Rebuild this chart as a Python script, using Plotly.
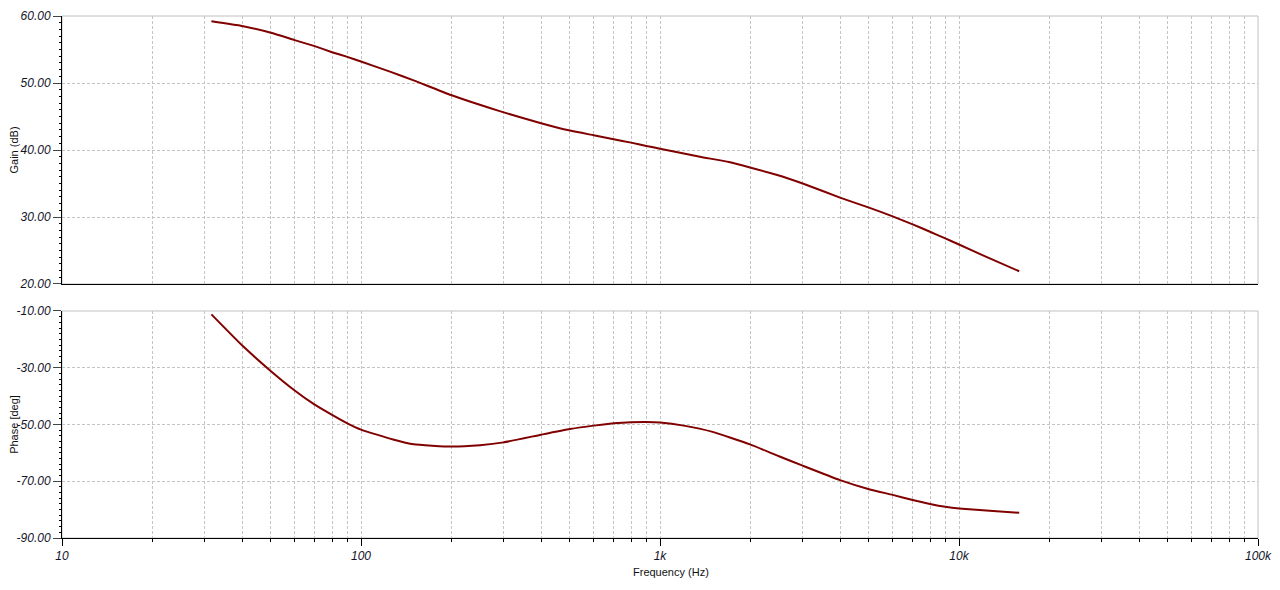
import plotly.graph_objects as go

# ─── Data ──────────────────────────────────────────────────────────────────────

gain_freq = [31.6, 40, 50, 60, 70, 80, 90, 100, 125, 150, 200, 291, 400, 500, 600,
             700, 800, 900, 1000, 1360, 1700, 2000, 2450, 3000, 4000, 5000, 6000, 7000,
             8000, 9000, 10000, 12400, 15900]
gain_db = [59.2, 58.5, 57.5, 56.4, 55.5, 54.6, 53.9, 53.2, 51.7, 50.4, 48.2, 45.8, 44.0,
           42.9, 42.2, 41.6, 41.1, 40.6, 40.2, 39.0, 38.2, 37.4, 36.3, 35.0, 32.9, 31.4,
           30.1, 28.9, 27.8, 26.8, 25.9, 24.0, 21.9]

phase_freq = [31.6, 40, 50, 60, 70, 80, 90, 100, 128, 150, 200, 250, 300, 400, 500, 600,
              700, 800, 900, 1000, 1200, 1500, 2000, 2500, 3000, 4000, 5000, 6000, 7000,
              8000, 9000, 10000, 13000, 15900]
phase_deg = [-11.2, -22.1, -31.2, -38.0, -43.0, -46.6, -49.6, -51.8, -55.3, -57.0, -57.8,
             -57.3, -56.3, -53.6, -51.6, -50.4, -49.6, -49.2, -49.1, -49.3, -50.4, -52.6,
             -57.0, -61.2, -64.5, -69.6, -72.8, -74.8, -76.6, -78.0, -79.0, -79.6, -80.5,
             -81.1]

x_major = [10, 100, 1000, 10000, 100000]
x_labels = ["10", "100", "1k", "10k", "100k"]
x_minor = [m * d for d in [10, 100, 1000, 10000] for m in range(2, 10)]

gain_ticks = [20, 30, 40, 50, 60]
gain_mid = [25, 35, 45, 55]
phase_ticks = [-90, -70, -50, -30, -10]
phase_mid = [-80, -60, -40, -20]

# ─── Styling ───────────────────────────────────────────────────────────────────

CURVE = "#800000"
GRID = "#c4c4c4"
BORDER = "#c0c0c0"
FONT = "Liberation Sans, Arial, sans-serif"
TICKFONT = dict(family=FONT, size=12, color="#15152a", style="italic")
TITLEFONT = dict(family=FONT, size=11, color="#111111")

TOP_DOM = [0.4866, 1.0]
BOT_DOM = [0.0, 0.4349]

fig = go.Figure()
fig.add_trace(go.Scatter(x=gain_freq, y=gain_db, mode="lines", xaxis="x", yaxis="y",
                         line=dict(color=CURVE, width=2, shape="spline", smoothing=0.4),
                         showlegend=False, hoverinfo="x+y"))
fig.add_trace(go.Scatter(x=phase_freq, y=phase_deg, mode="lines", xaxis="x2", yaxis="y2",
                         line=dict(color=CURVE, width=2, shape="spline", smoothing=0.4),
                         showlegend=False, hoverinfo="x+y"))


def x_axis(domain_anchor, bottom):
    ax = dict(
        type="log", range=[1, 5], anchor=domain_anchor, automargin=False,
        tickvals=x_major, ticktext=x_labels,
        showgrid=True, gridcolor=GRID, griddash="3px,2px", gridwidth=1,
        showline=True, linecolor="#000000", linewidth=1, zeroline=False,
        minor=dict(tickvals=x_minor, showgrid=True, gridcolor=GRID,
                   griddash="3px,2px", gridwidth=1),
    )
    if bottom:
        ax.update(ticks="outside", ticklen=7, tickcolor="#000000", tickfont=TICKFONT)
        ax["minor"].update(ticks="outside", ticklen=3, tickcolor="#000000")
    else:
        ax.update(ticks="", showticklabels=False)
    return ax


def y_axis(domain, anchor, ticks, rng, title, minor_step):
    return dict(
        domain=domain, anchor=anchor, range=rng, automargin=False,
        tickvals=ticks, ticktext=[f"{v:.2f}" for v in ticks],
        ticks="outside", ticklen=8, tickcolor="#444444", tickfont=TICKFONT,
        showgrid=True, gridcolor=GRID, griddash="3px,2px", gridwidth=1,
        showline=True, linecolor="#000000", linewidth=1, zeroline=False,
        minor=dict(dtick=minor_step, ticks="outside",
                   ticklen=2, tickcolor="#000000", showgrid=False),
        title=dict(text=title, font=TITLEFONT, standoff=10),
    )


def mid_axis(over, anchor, ticks, rng):
    return dict(overlaying=over, anchor=anchor, range=rng, side="left",
                automargin=False,
                tickvals=ticks, ticktext=["" for _ in ticks],
                ticks="outside", ticklen=4, tickcolor="#000000",
                showgrid=False, showline=False, zeroline=False)


# the page body adds an 8px offset, so the figure is sized to fit inside it
fig.update_layout(
    width=1272, height=582,
    margin=dict(l=54, r=22, t=8, b=52),
    paper_bgcolor="#ffffff", plot_bgcolor="#ffffff",
    xaxis=x_axis("y", False),
    xaxis2=x_axis("y2", True),
    yaxis=y_axis(TOP_DOM, "x", gain_ticks, [20, 60], "Gain (dB)", 1),
    yaxis2=y_axis(BOT_DOM, "x2", phase_ticks, [-90, -10], "Phase [deg]", 2),
    yaxis3=mid_axis("y", "x", gain_mid, [20, 60]),
    yaxis4=mid_axis("y2", "x2", phase_mid, [-90, -10]),
)
fig.update_layout(xaxis2=dict(matches="x"))

# x title sits a little right of the plot centre in the original
fig.add_annotation(text="Frequency (Hz)", xref="paper", yref="paper", x=0.509, y=0,
                   yshift=-34, xanchor="center", yanchor="middle", showarrow=False,
                   font=TITLEFONT)

# light grey frame on top and right of each panel
for xr, yr in [("x domain", "y domain"), ("x2 domain", "y2 domain")]:
    fig.add_shape(type="rect", xref=xr, yref=yr, x0=0, x1=1, y0=0, y1=1,
                  line=dict(color=BORDER, width=1), layer="below")

fig.write_html("out.html")
